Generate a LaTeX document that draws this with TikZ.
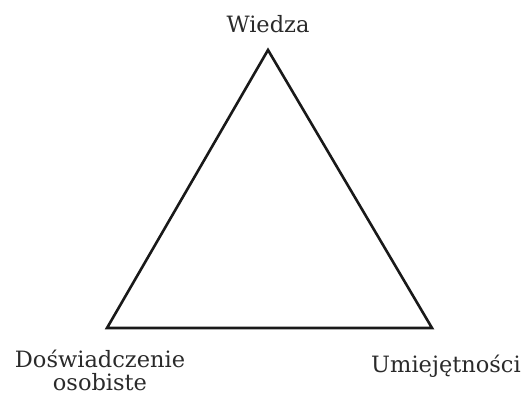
\documentclass[tikz,border=0pt]{standalone}
\usepackage{fontspec}
\setmainfont{DejaVu Serif}
\definecolor{txt}{HTML}{2A2A2A}
\begin{document}
\begin{tikzpicture}[x=1pt,y=-1pt,
  lbl/.style={anchor=base,text=txt,font=\fontsize{22.5}{23}\selectfont,inner sep=0pt,align=center},
  edge/.style={line width=2.6pt,line join=miter,black!90}]
\useasboundingbox (0,0) rectangle (525,395);
\coordinate (A) at (268,50);
\coordinate (B) at (107,328);
\coordinate (C) at (432,328);
\draw[edge] (A) -- (B) -- (C) -- cycle;
\node[lbl] (w) at (268,33) {Wiedza};
\node[lbl] (d) at (100,390) {Doświadczenie\\osobiste};
\node[lbl] (u) at (446,373) {Umiejętności};
\end{tikzpicture}
\end{document}
